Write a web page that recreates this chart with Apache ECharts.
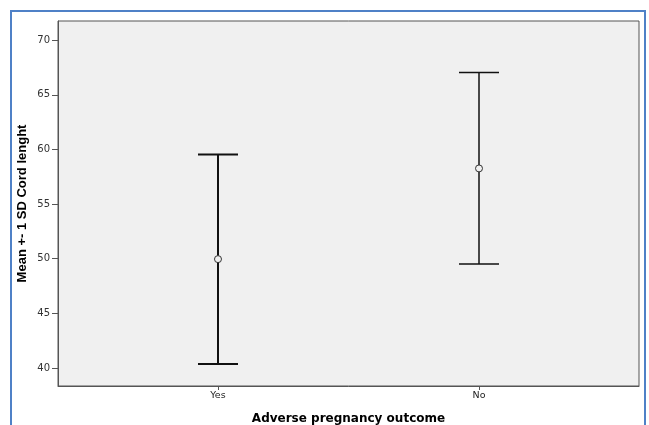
<!DOCTYPE html>
<html>
<head>
<meta charset="utf-8">
<script src="https://cdn.jsdelivr.net/npm/echarts@6/dist/echarts.min.js"></script>
<style>
  html, body { margin: 0; padding: 0; background: #fff; }
  #main { width: 649px; height: 425px; }
</style>
</head>
<body>
<div id="main"></div>
<script>
// groups on the x axis
var categories = ['Yes', 'No'];
// mean and mean +- 1 SD of cord length
var means = [49.96, 58.26];
var lower = [40.37, 49.51];
var upper = [59.54, 67.04];
// y tick labels
var yTicks = [40, 45, 50, 55, 60, 65, 70];

var chart = echarts.init(document.getElementById('main'));

var barData = categories.map(function (c, i) {
  return [i + 1, lower[i], upper[i]];
});
var meanData = categories.map(function (c, i) {
  return [i + 1, means[i]];
});
var lineWidths = [2, 1.5];

var option = {
  backgroundColor: '#fff',
  animation: false,
  graphic: [{
    type: 'rect',
    shape: { x: 11, y: 11, width: 634, height: 430 },
    style: { fill: 'none', stroke: '#4f81c7', lineWidth: 2 },
    z: 100
  }],
  grid: {
    left: 58, top: 21, right: 10, bottom: 39,
    outerBoundsMode: 'none',
    containLabel: false,
    show: true,
    backgroundColor: '#f0f0f0',
    borderColor: '#555',
    borderWidth: 1
  },
  xAxis: {
    type: 'value',
    min: 0.387,
    max: 2.613,
    name: 'Adverse pregnancy outcome',
    nameLocation: 'middle',
    nameGap: 27,
    nameMoveOverlap: false,
    nameTextStyle: { fontFamily: 'DejaVu Sans', fontWeight: 'bold', fontSize: 12, color: '#000' },
    axisLine: { show: true, onZero: false, lineStyle: { color: '#555', width: 1 } },
    axisTick: { show: true, length: 4, customValues: [1, 2], lineStyle: { color: '#555' } },
    axisLabel: {
      customValues: [1, 2],
      fontFamily: 'DejaVu Sans', fontSize: 9.5, color: '#222', margin: 5,
      formatter: function (v) { return categories[Math.round(v) - 1] || ''; }
    },
    splitLine: { show: false }
  },
  yAxis: {
    type: 'value',
    min: 38.35,
    max: 71.75,
    name: 'Mean +- 1 SD Cord lenght',
    nameLocation: 'middle',
    nameGap: 29,
    nameMoveOverlap: false,
    nameTextStyle: { fontFamily: 'Liberation Sans', fontWeight: 'bold', fontSize: 13, color: '#000' },
    axisLine: { show: true, onZero: false, lineStyle: { color: '#555', width: 1 } },
    axisTick: { show: true, length: 6, customValues: yTicks, lineStyle: { color: '#555' } },
    axisLabel: {
      customValues: yTicks,
      fontFamily: 'DejaVu Sans', fontSize: 10, color: '#333', margin: 8
    },
    splitLine: { show: false }
  },
  series: [
    {
      type: 'custom',
      data: barData,
      renderItem: function (params, api) {
        var x = api.value(0);
        var lo = api.coord([x, api.value(1)]);
        var hi = api.coord([x, api.value(2)]);
        var half = 20;
        var lw = lineWidths[params.dataIndex];
        var st = { stroke: '#111', lineWidth: lw };
        return {
          type: 'group',
          children: [
            { type: 'line', shape: { x1: hi[0], y1: hi[1], x2: lo[0], y2: lo[1] }, style: st },
            { type: 'line', shape: { x1: hi[0] - half, y1: hi[1], x2: hi[0] + half, y2: hi[1] }, style: st },
            { type: 'line', shape: { x1: lo[0] - half, y1: lo[1], x2: lo[0] + half, y2: lo[1] }, style: st }
          ]
        };
      },
      z: 2
    },
    {
      type: 'scatter',
      data: meanData,
      symbol: 'circle',
      symbolSize: 7,
      itemStyle: { color: '#f0f0f0', borderColor: '#333', borderWidth: 1, opacity: 1 },
      z: 3
    }
  ]
};

chart.setOption(option);
</script>
</body>
</html>
